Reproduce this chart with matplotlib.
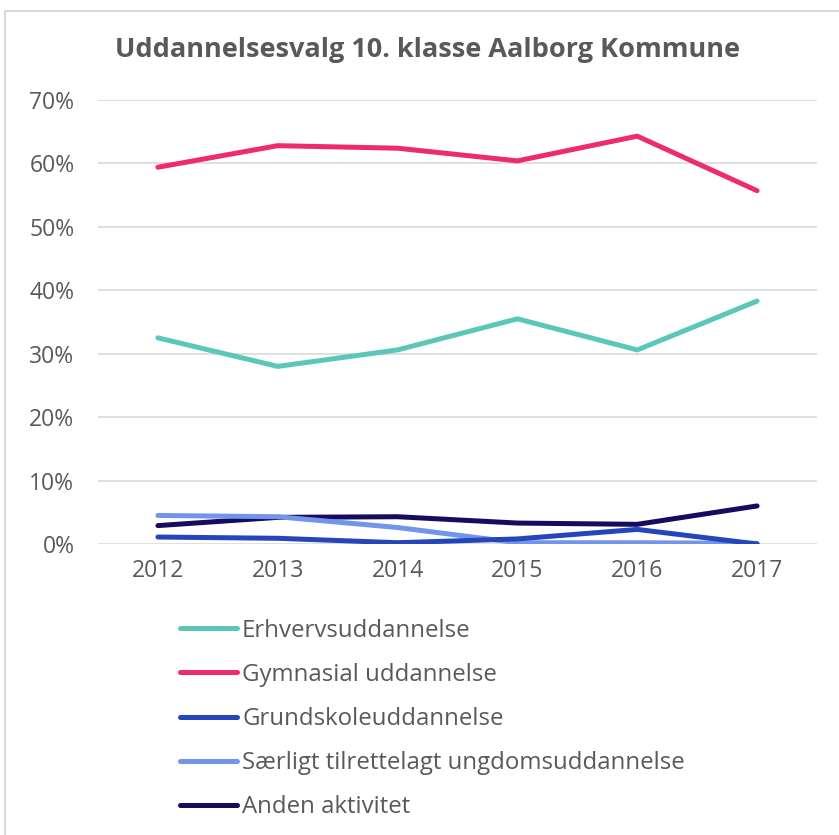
import matplotlib
matplotlib.use("Agg")
import matplotlib.pyplot as plt
from matplotlib.lines import Line2D

# data (share of students, in %)
years = ["2012", "2013", "2014", "2015", "2016", "2017"]
erhverv = [32.5, 28.0, 30.6, 35.5, 30.6, 38.3]
gymnasial = [59.4, 62.8, 62.4, 60.4, 64.3, 55.7]
grundskole = [1.1, 0.9, 0.2, 0.8, 2.3, 0.0]
saerligt = [4.5, 4.3, 2.6, 0.2, 0.2, 0.1]
anden = [2.9, 4.2, 4.3, 3.3, 3.1, 6.0]

labels = ["Erhvervsuddannelse", "Gymnasial uddannelse", "Grundskoleuddannelse",
          "Særligt tilrettelagt ungdomsuddannelse", "Anden aktivitet"]
colors = ["#5BC7B8", "#EE2C6C", "#2446BA", "#7195E8", "#150B5F"]
series = [erhverv, gymnasial, grundskole, saerligt, anden]

plt.rcParams['font.family'] = ['Open Sans', 'DejaVu Sans']
grey = "#595959"

fig = plt.figure(figsize=(8.39, 8.35), dpi=100)
ax = fig.add_axes([98/839, 1 - 544/835, (817-98)/839, (544-100)/835])

x = list(range(len(years)))
# draw in reverse so that the order of overlaps looks like the original
for vals, col in list(zip(series, colors))[::-1]:
    ax.plot(x, vals, color=col, lw=3.6, solid_capstyle='round', solid_joinstyle='round', zorder=3)

ax.set_xlim(-0.5, len(years) - 0.5)
ax.set_ylim(0, 70)
ax.set_yticks(range(0, 71, 10))
ax.set_yticklabels([f"{v}%" for v in range(0, 71, 10)])
ax.set_xticks(x)
ax.set_xticklabels(years)
ax.tick_params(axis='both', length=0, labelsize=16.5, labelcolor=grey)
ax.tick_params(axis='y', pad=17)
ax.tick_params(axis='x', pad=11)
ax.grid(axis='y', color='#D9D9D9', lw=1.2, zorder=0)
for s in ax.spines.values():
    s.set_visible(False)

fig.text(427/839, 1 - 50/835, "Uddannelsesvalg 10. klasse Aalborg Kommune",
         ha='center', va='center', fontsize=19.5, fontweight='bold', color=grey)

handles = [Line2D([], [], color=c, lw=3.6, solid_capstyle='round') for c in colors]
leg = fig.legend(handles, labels, loc='upper left', bbox_to_anchor=(170/839, 1 - 609/835),
                 frameon=False, fontsize=17.3, handlelength=2.4, handletextpad=0.2,
                 labelspacing=0.84, borderaxespad=0)
for t in leg.get_texts():
    t.set_color(grey)

# light frame round the chart, like the spreadsheet chart area
fig.add_artist(Line2D([5/839, 5/839], [0, 1 - 11/835], color='#D9D9D9', lw=1.5))
fig.add_artist(Line2D([5/839, 1], [1 - 11/835, 1 - 11/835], color='#D9D9D9', lw=1.5))

fig.savefig("out.png", dpi=100)
